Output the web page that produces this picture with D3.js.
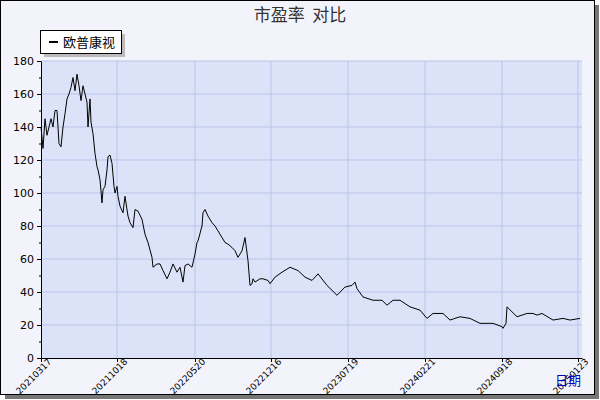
<!DOCTYPE html>
<html><head><meta charset="utf-8">
<script src="https://cdn.jsdelivr.net/npm/d3@7"></script>
<style>body{margin:0;background:#fff}</style></head>
<body><svg id="c" width="600" height="400"></svg>
<script>
const title = "市盈率\u00a0\u00a0对比";
const seriesName = "欧普康视";
const tickLabels = ["20210317","20211018","20220520","20221216","20230719","20240221","20240918","20250123"];
const tickIdx = [0,76,154,230,307,384,461,537];
const yTicks = [0,20,40,60,80,100,120,140,160,180];
const idx = [0,2,4,6,8,10,12,14,16,18,20,22,24,26,28,30,32,34,36,38,40,42,44,46,47,49,50,52,54,56,57,59,61,62,64,66,67,69,71,73,74,76,77,79,82,84,87,89,92,94,97,101,104,107,111,112,116,119,122,126,129,132,136,139,142,144,147,151,154,156,157,161,162,164,167,171,174,177,181,184,187,191,194,197,201,204,207,209,211,212,214,219,222,227,229,234,241,249,257,264,271,277,286,291,296,304,311,314,316,322,332,341,346,352,359,369,379,386,392,402,409,419,429,439,446,452,461,462,465,466,476,486,492,496,501,512,522,529,539];
const values = [140,127,145,135,140,145,140,150,150,130,128,140,148,157,160,164,170,162,172,165,156,165,160,155,140,157,143,136,124,116,114,108,94,102,104,114,122,123,118,104,100,104,98,92,88,98,86,82,79,90,89,84,75,70,61,55,57,57,53,48,52,57,52,55,46,56,57,55,63,70,71,80,88,90,86,82,80,77,73,70,69,67,65,61,65,73,59,44,45,48,46,48,48,47,45,49,52,55,53,49,47,51,44,41,38,43,44,46,42,37,35,35,32,35,35,31,29,24,27,27,23,25,24,21,21,21,19,18,21,31,25,27,27,26,27,23,24,23,24,24];

const svg = d3.select("#c");
svg.append("rect").attr("x",5).attr("y",5).attr("width",594).attr("height",394).attr("fill","#777");
svg.append("rect").attr("x",0.5).attr("y",0.5).attr("width",594).attr("height",394).attr("fill","#f3f4fb").attr("stroke","#000");
const L=41,R=582,T=61,B=358;
const x=d3.scaleLinear().domain([0,541]).range([L,R]);
const y=d3.scaleLinear().domain([0,180]).range([B,T]);
svg.append("rect").attr("x",L).attr("y",T).attr("width",R-L).attr("height",B-T).attr("fill","#dce2f7");
const g=svg.append("g");
yTicks.forEach(v=>{ if(v>0) g.append("line").attr("x1",L).attr("x2",R).attr("y1",y(v)).attr("y2",y(v)).attr("stroke","#b9c5ea"); });
tickIdx.forEach(v=>{ if(v>0) g.append("line").attr("x1",x(v)).attr("x2",x(v)).attr("y1",T).attr("y2",B).attr("stroke","#b9c5ea"); });
const ya=svg.append("g").attr("transform",`translate(${L},0)`).call(d3.axisLeft(y).tickValues(yTicks).tickSize(4).tickSizeOuter(0));
ya.selectAll("text").attr("font-family","DejaVu Sans").attr("font-size",11).attr("fill","#000");
const ym=svg.append("g").attr("transform",`translate(${L},0)`).call(d3.axisLeft(y).tickValues(d3.range(10,180,20)).tickSize(2).tickFormat(""));
ym.select(".domain").remove();
const xa=svg.append("g").attr("transform",`translate(0,${B})`).call(d3.axisBottom(x).tickValues(tickIdx).tickFormat((d,i)=>tickLabels[i]).tickSize(4).tickSizeOuter(0));
xa.selectAll("text").attr("font-family","DejaVu Sans").attr("font-size",9).attr("fill","#000")
  .attr("text-anchor","end").attr("dx","0.5em").attr("dy","0.4em").attr("transform","rotate(-45)");
svg.selectAll(".domain").attr("stroke","#000");
svg.append("path").datum(values).attr("fill","none").attr("stroke","#000").attr("stroke-width",1)
  .attr("d",d3.line().x((d,i)=>x(idx[i])).y(d=>y(d)));
svg.append("text").attr("x",300).attr("y",21).attr("text-anchor","middle").attr("font-family","Noto Sans CJK SC").attr("font-size",17).attr("fill","#333").text(title);
svg.append("rect").attr("x",44).attr("y",34).attr("width",81).attr("height",23).attr("fill","#bbb");
svg.append("rect").attr("x",40.5).attr("y",30.5).attr("width",81).attr("height",23).attr("fill","#fff").attr("stroke","#000");
svg.append("line").attr("x1",49).attr("x2",58).attr("y1",42).attr("y2",42).attr("stroke","#000").attr("stroke-width",2);
svg.append("text").attr("x",63).attr("y",47).attr("font-family","Noto Sans CJK SC").attr("font-size",13).text(seriesName);
svg.append("text").attr("x",555).attr("y",385).attr("font-family","Noto Sans CJK SC").attr("font-size",13).attr("fill","#00c").text("日期");
</script></body></html>
